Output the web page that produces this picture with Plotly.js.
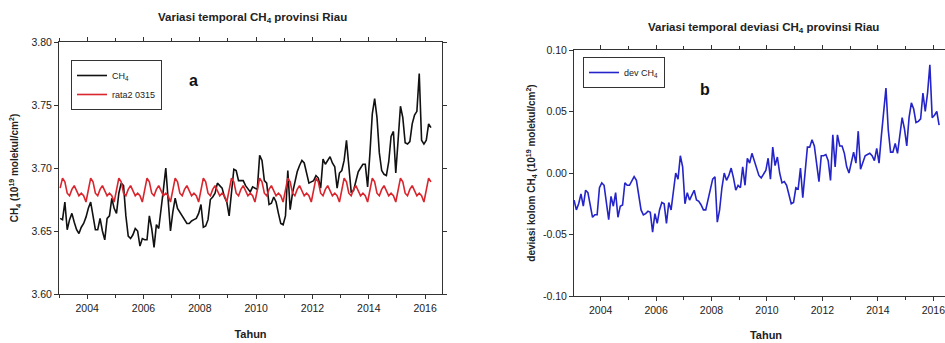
<!DOCTYPE html>
<html>
<head>
<meta charset="utf-8">
<script src="https://cdn.plot.ly/plotly-3.0.1.min.js"></script>
<style>
html,body{margin:0;padding:0;background:#fff;overflow:hidden;width:945px;height:343px;}
#chart{width:960px;height:343px;}
</style>
</head>
<body>
<div id="chart"></div>
<script>
// Monthly series, Jan 2003 .. Mar 2016
const startYear = 2003;

const ch4 = [
  3.660,3.659,3.673,3.651,3.659,3.664,3.657,3.651,3.648,3.653,3.656,3.661,
  3.668,3.673,3.662,3.651,3.651,3.660,3.650,3.643,3.660,3.662,3.676,3.668,
  3.664,3.680,3.688,3.686,3.662,3.646,3.644,3.647,3.652,3.650,3.638,3.644,
  3.643,3.643,3.662,3.652,3.637,3.655,3.652,3.670,3.683,3.700,3.678,3.650,
  3.665,3.676,3.668,3.665,3.662,3.659,3.656,3.656,3.658,3.659,3.660,3.664,
  3.671,3.653,3.654,3.659,3.675,3.677,3.680,3.688,3.686,3.684,3.677,3.673,
  3.662,3.683,3.699,3.698,3.690,3.690,3.690,3.686,3.683,3.681,3.685,3.684,
  3.683,3.710,3.706,3.690,3.688,3.671,3.672,3.677,3.673,3.664,3.656,3.655,
  3.662,3.698,3.667,3.680,3.690,3.697,3.702,3.706,3.704,3.696,3.688,3.689,
  3.690,3.694,3.692,3.684,3.707,3.703,3.706,3.709,3.704,3.701,3.684,3.696,
  3.698,3.706,3.722,3.700,3.681,3.682,3.690,3.697,3.700,3.703,3.703,3.685,
  3.712,3.743,3.755,3.740,3.712,3.698,3.695,3.694,3.705,3.725,3.729,3.696,
  3.722,3.749,3.740,3.720,3.719,3.721,3.735,3.742,3.745,3.775,3.722,3.719,
  3.722,3.735,3.732
];

const rata2 = [
  3.684,3.692,3.689,3.680,3.678,3.683,3.686,3.682,3.678,3.680,3.678,3.673,
  3.684,3.692,3.689,3.680,3.678,3.683,3.686,3.682,3.678,3.680,3.678,3.673,
  3.684,3.692,3.689,3.680,3.678,3.683,3.686,3.682,3.678,3.680,3.678,3.673,
  3.684,3.692,3.689,3.680,3.678,3.683,3.686,3.682,3.678,3.680,3.678,3.673,
  3.684,3.692,3.689,3.680,3.678,3.683,3.686,3.682,3.678,3.680,3.678,3.673,
  3.684,3.692,3.689,3.680,3.678,3.683,3.686,3.682,3.678,3.680,3.678,3.673,
  3.684,3.692,3.689,3.680,3.678,3.683,3.686,3.682,3.678,3.680,3.678,3.673,
  3.684,3.692,3.689,3.680,3.678,3.683,3.686,3.682,3.678,3.680,3.678,3.673,
  3.684,3.692,3.689,3.680,3.678,3.683,3.686,3.682,3.678,3.680,3.678,3.673,
  3.684,3.692,3.689,3.680,3.678,3.683,3.686,3.682,3.678,3.680,3.678,3.673,
  3.684,3.692,3.689,3.680,3.678,3.683,3.686,3.682,3.678,3.680,3.678,3.673,
  3.684,3.692,3.689,3.680,3.678,3.683,3.686,3.682,3.678,3.680,3.678,3.673,
  3.684,3.692,3.689,3.680,3.678,3.683,3.686,3.682,3.678,3.680,3.678,3.673,
  3.684,3.692,3.689
];

const devCh4 = [
  -0.022,-0.030,-0.025,-0.017,-0.027,-0.014,-0.016,-0.025,-0.036,-0.034,-0.034,-0.012,
  -0.008,-0.010,-0.024,-0.038,-0.019,-0.027,-0.016,-0.036,-0.027,-0.026,-0.008,-0.010,
  -0.010,-0.006,-0.003,-0.006,-0.020,-0.030,-0.034,-0.033,-0.031,-0.032,-0.048,-0.033,
  -0.041,-0.030,-0.024,-0.025,-0.041,-0.024,-0.030,-0.014,0.000,-0.005,0.014,0.005,
  -0.025,-0.016,-0.022,-0.018,-0.014,-0.022,-0.023,-0.026,-0.030,-0.030,-0.022,-0.012,
  -0.005,-0.003,-0.040,-0.030,-0.012,0.000,-0.006,-0.002,0.004,-0.004,-0.014,-0.010,
  -0.012,0.005,-0.010,0.012,0.008,0.016,0.010,0.002,-0.002,-0.004,-0.001,0.002,
  0.012,-0.005,0.021,0.006,0.013,0.000,-0.008,-0.007,-0.010,-0.017,-0.025,-0.024,
  -0.012,-0.013,0.004,-0.020,0.002,0.021,0.021,0.027,0.022,0.005,-0.007,0.014,
  0.014,0.015,0.010,-0.006,0.031,0.005,0.031,0.022,0.022,0.016,0.005,0.000,
  0.010,0.017,0.008,0.034,0.003,0.008,0.014,0.015,0.016,0.014,0.010,0.020,
  0.008,0.030,0.050,0.069,0.035,0.017,0.017,0.024,0.016,0.030,0.045,0.036,
  0.022,0.045,0.057,0.052,0.041,0.042,0.044,0.065,0.050,0.065,0.088,0.045,
  0.047,0.050,0.039
];

const xTickVals = [2004,2006,2008,2010,2012,2014,2016];
const yTickValsA = [3.60,3.65,3.70,3.75,3.80];
const yTickTextA = ["3.60","3.65","3.70","3.75","3.80"];
const yTickValsB = [-0.10,-0.05,0.00,0.05,0.10];
const yTickTextB = ["-0.10","-0.05","0.00","0.05","0.10"];

const titleA = "Variasi temporal CH<sub>4</sub> provinsi Riau";
const titleB = "Variasi temporal deviasi CH<sub>4</sub> provinsi Riau";
const yTitleA = "CH<sub>4</sub> (10<sup>19</sup> molekul/cm<sup>2</sup>)";
const yTitleB = "deviasi kolom CH<sub>4</sub> (10<sup>19</sup> molekul/cm<sup>2</sup>)";
const xTitle = "Tahun";

const t = ch4.map((_, i) => startYear + (i + 0.5) / 12);

const FONT = "Liberation Sans, Arial, sans-serif";
const W = 960, H = 343;

const traces = [
  {x: t, y: ch4, type: 'scatter', mode: 'lines', name: 'CH<sub>4</sub>',
   line: {color: '#111111', width: 1.6}, xaxis: 'x', yaxis: 'y', legend: 'legend'},
  {x: t, y: rata2, type: 'scatter', mode: 'lines', name: 'rata2 0315',
   line: {color: '#d9262e', width: 1.6}, xaxis: 'x', yaxis: 'y', legend: 'legend'},
  {x: t, y: devCh4, type: 'scatter', mode: 'lines', name: 'dev CH<sub>4</sub>',
   line: {color: '#2424c8', width: 1.6}, xaxis: 'x2', yaxis: 'y2', legend: 'legend2'}
];

const axisCommon = {
  showgrid: false, zeroline: false, showline: true, linecolor: '#333', linewidth: 1,
  mirror: 'ticks', ticks: 'outside', ticklen: 4, tickcolor: '#333', tickwidth: 1,
  tickfont: {family: FONT, size: 10.5, color: '#222'}
};

const layout = {
  width: W, height: H,
  margin: {l: 0, r: 0, t: 0, b: 0},
  paper_bgcolor: '#fff', plot_bgcolor: '#fff',
  font: {family: FONT, color: '#222'},
  xaxis: Object.assign({}, axisCommon, {
    domain: [59/W, 442/W], range: [2003.0, 2016.6],
    tickmode: 'array', tickvals: xTickVals,
    minor: {dtick: 1, tick0: 2003, ticks: 'outside', ticklen: 3, tickcolor: '#333'},
    title: {text: '<b>' + xTitle + '</b>', font: {family: FONT, size: 11, color: '#222'}, standoff: 17},
    anchor: 'y'
  }),
  yaxis: Object.assign({}, axisCommon, {
    domain: [1 - 294/H, 1 - 42/H], range: [3.60, 3.80],
    tickmode: 'array', tickvals: yTickValsA, ticktext: yTickTextA,
    title: {text: '<b>' + yTitleA + '</b>', font: {family: FONT, size: 10, color: '#222'}, standoff: 10},
    anchor: 'x'
  }),
  xaxis2: Object.assign({}, axisCommon, {
    domain: [574/W, 958/W], range: [2003.04, 2016.89],
    tickmode: 'array', tickvals: xTickVals,
    minor: {dtick: 1, tick0: 2003, ticks: 'outside', ticklen: 3, tickcolor: '#333'},
    title: {text: '<b>' + xTitle + '</b>', font: {family: FONT, size: 11, color: '#222'}, standoff: 16},
    anchor: 'y2'
  }),
  yaxis2: Object.assign({}, axisCommon, {
    domain: [1 - 296/H, 1 - 50/H], range: [-0.10, 0.10],
    tickmode: 'array', tickvals: yTickValsB, ticktext: yTickTextB,
    title: {text: '<b>' + yTitleB + '</b>', font: {family: FONT, size: 10, color: '#222'}, standoff: 5},
    anchor: 'x2'
  }),
  legend: {
    x: 71/W, y: 1 - 60/H, xanchor: 'left', yanchor: 'top',
    bgcolor: '#fff', bordercolor: '#333', borderwidth: 1,
    font: {family: FONT, size: 9, color: '#222'}, tracegroupgap: 0, itemwidth: 30
  },
  legend2: {
    x: 583/W, y: 1 - 57/H, xanchor: 'left', yanchor: 'top',
    bgcolor: '#fff', bordercolor: '#333', borderwidth: 1,
    font: {family: FONT, size: 9, color: '#222'}, itemwidth: 30
  },
  annotations: [
    {text: '<b>' + titleA + '</b>', x: 252/W, y: 1 - 18/H, xref: 'paper', yref: 'paper',
     xanchor: 'center', yanchor: 'middle', showarrow: false, font: {family: FONT, size: 11.5, color: '#222'}},
    {text: '<b>' + titleB + '</b>', x: 763/W, y: 1 - 28/H, xref: 'paper', yref: 'paper',
     xanchor: 'center', yanchor: 'middle', showarrow: false, font: {family: FONT, size: 11.5, color: '#222'}},
    {text: '<b>a</b>', x: 193/W, y: 1 - 80/H, xref: 'paper', yref: 'paper',
     xanchor: 'center', yanchor: 'middle', showarrow: false, font: {family: FONT, size: 16, color: '#111'}},
    {text: '<b>b</b>', x: 705/W, y: 1 - 89/H, xref: 'paper', yref: 'paper',
     xanchor: 'center', yanchor: 'middle', showarrow: false, font: {family: FONT, size: 16, color: '#111'}}
  ],
  showlegend: true
};

Plotly.newPlot('chart', traces, layout, {staticPlot: true, displayModeBar: false});
</script>
</body>
</html>
